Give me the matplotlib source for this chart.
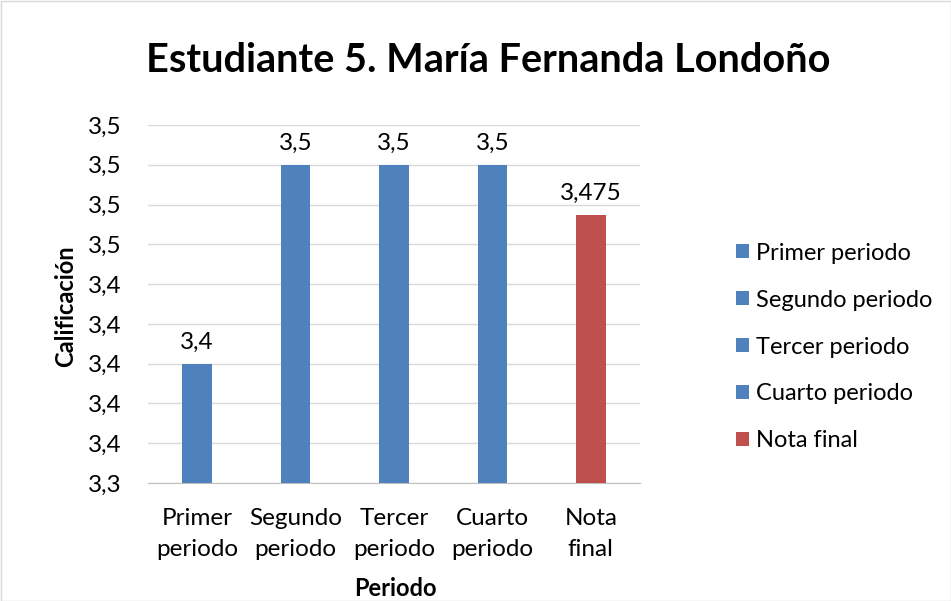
import matplotlib.pyplot as plt
from matplotlib.patches import Patch, Rectangle
from matplotlib.ticker import FuncFormatter, MultipleLocator

plt.rcParams['font.family'] = ['Lato', 'DejaVu Sans']

categories = ["Primer\nperiodo", "Segundo\nperiodo", "Tercer\nperiodo", "Cuarto\nperiodo", "Nota\nfinal"]
legend_names = ["Primer periodo", "Segundo periodo", "Tercer periodo", "Cuarto periodo", "Nota final"]
values = [3.4, 3.5, 3.5, 3.5, 3.475]
value_labels = ["3,4", "3,5", "3,5", "3,5", "3,475"]
blue = "#4F81BD"
red = "#C0504D"
colors = [blue, blue, blue, blue, red]

fig = plt.figure(figsize=(9.51, 6.01), dpi=100)
ax = fig.add_axes([148/951, 1-483/601, (640-148)/951, (483-125)/601])

x = range(len(values))
ax.bar(x, values, width=0.3, color=colors, zorder=3)
for xi, v, lab in zip(x, values, value_labels):
    ax.text(xi, v + 0.0055, lab, ha="center", va="bottom", fontsize=17.5)

ax.set_xlim(-0.5, 4.5)
ax.set_ylim(3.34, 3.52)
ax.yaxis.set_major_locator(MultipleLocator(0.02))
ax.yaxis.set_major_formatter(FuncFormatter(lambda v, p: f"{v:.1f}".replace(".", ",")))
ax.set_xticks(list(x))
ax.set_xticklabels(categories, fontsize=17.5, linespacing=1.6)
ax.tick_params(axis="y", labelsize=17.5, length=0, pad=19)
ax.tick_params(axis="x", length=0, pad=18)
ax.grid(axis="y", color="#D9D9D9", linewidth=1, zorder=0)
for s in ["left", "right", "top"]:
    ax.spines[s].set_visible(False)
ax.spines["bottom"].set_color("#BFBFBF")

fig.text(66/951, 1-306/601, "Calificación", rotation=90, ha="center", va="center",
         fontsize=17, fontweight="bold")
fig.text(395/951, 1-588/601, "Periodo", ha="center", va="center",
         fontsize=17, fontweight="bold")

fig.text(488/951, 1-60/601, "Estudiante 5. María Fernanda Londoño",
         ha="center", va="center", fontsize=28.5, fontweight="bold")

handles = [Patch(facecolor=c) for c in colors]
fig.legend(handles, legend_names, loc="center left", bbox_to_anchor=(736/951, 1-347/601),
           frameon=False, fontsize=17, handlelength=0.55, handleheight=0.55,
           labelspacing=1.1, handletextpad=0.3, borderpad=0, borderaxespad=0)

fig.add_artist(Rectangle((0.5/951, 0.5/601), 1-1/951, 1-1/601, transform=fig.transFigure,
                         fill=False, edgecolor="#D9D9D9", linewidth=1))

fig.savefig("out.png", dpi=100)
